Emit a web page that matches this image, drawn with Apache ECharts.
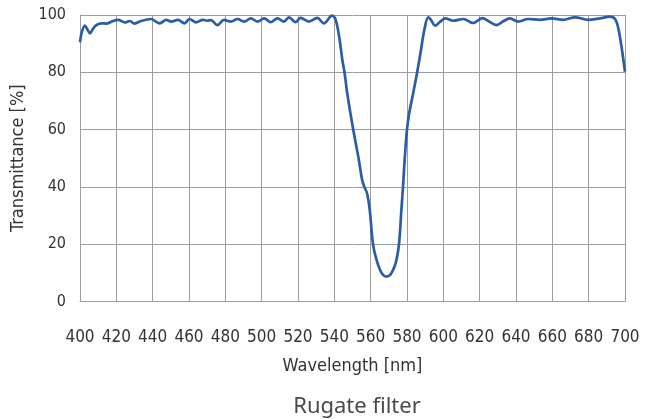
<!DOCTYPE html>
<html>
<head>
<meta charset="utf-8">
<script src="https://cdn.jsdelivr.net/npm/echarts@6/dist/echarts.min.js"></script>
<style>
html,body{margin:0;padding:0;background:#fff;}
#chart{width:656px;height:419px;}
</style>
</head>
<body>
<div id="chart"></div>
<script>
const chartTitle = "Rugate filter";
const xAxisName = "Wavelength [nm]";
const yAxisName = "Transmittance [%]";
const xTicks = [400,420,440,460,480,500,520,540,560,580,600,620,640,660,680,700];
const yTicks = [0,20,40,60,80,100];

const wavelength = [
  400,401,402.7,404,405.5,407,409,412,414.6,417.4,421,424.7,427.4,430,433.5,439,443.8,447.5,450.2,453.9,
  457.5,460.3,463.9,467.6,470,472,475.6,479.3,483,486.7,490.4,494,497.7,501.4,505,508.7,512.3,515,518.7,521.4,
  526,530.6,534.2,538.8,540.3,541.5,543,544.4,545.6,547.1,550.4,553.5,555.3,556.5,558,559.5,561.3,563.5,566,568.7,
  571,573,574.2,575.6,576.9,577.8,578.7,580,581.2,583.4,585.6,587.5,589.6,591.7,593,595.5,598,601,605.5,611,
  616.5,621.5,625,629.3,633,636.6,641.2,646.7,653.2,659.6,666,672.5,679.8,686.2,691.7,694.5,696.3,698.2,700
];
const transmittance = [
  90.5,94,96.3,95,93.6,95,96.5,97.1,97.0,97.7,98.3,97.4,97.9,97.0,97.9,98.6,97.1,98.3,97.7,98.3,
  97.1,98.6,97.4,98.3,98.0,98.2,96.5,98.3,97.7,98.6,97.7,98.8,97.7,98.8,97.5,98.8,97.7,99.2,97.5,99.0,
  97.7,99.0,97.1,99.8,99.0,96.5,91,84.3,80,72.7,60,49.4,42.4,40,37.8,31.9,20,14,10,8.7,
  9.5,12,14.5,20,31.9,40,49.4,60,65.7,72.7,80,87,95,99.2,98.5,96.3,97.5,98.8,98,98.6,
  97.2,98.9,97.8,96.5,97.8,98.8,97.7,98.6,98.3,98.8,98.3,99.2,98.3,98.8,99.4,98.6,95.4,88.4,80.2
];

const seriesData = wavelength.map((w, i) => [w, transmittance[i]]);
const condensed = '"DejaVu Sans Condensed", "Liberation Sans Narrow", "Roboto", sans-serif';
const gridColor = '#9c9c9c';

const chart = echarts.init(document.getElementById('chart'), null, {renderer: 'canvas'});
chart.setOption({
  animation: false,
  backgroundColor: '#ffffff',
  title: {
    text: chartTitle,
    left: 352,
    textAlign: 'center',
    top: 391,
    textStyle: {fontFamily: '"Noto Sans", "DejaVu Sans", sans-serif', fontSize: 22, fontWeight: 'normal', color: '#4a4a4a'}
  },
  grid: {left: 80, right: 31, top: 15, bottom: 117.5, containLabel: false},
  xAxis: {
    type: 'value',
    min: xTicks[0],
    max: xTicks[xTicks.length - 1],
    interval: 20,
    name: xAxisName,
    nameLocation: 'middle',
    nameGap: 56,
    nameTextStyle: {fontFamily: condensed, fontSize: 18, color: '#333'},
    axisLine: {show: true, lineStyle: {color: gridColor, width: 1}},
    axisTick: {show: false},
    axisLabel: {fontFamily: condensed, fontSize: 17, color: '#333', margin: 28},
    splitLine: {show: true, lineStyle: {color: gridColor, width: 1}}
  },
  yAxis: {
    type: 'value',
    min: yTicks[0],
    max: yTicks[yTicks.length - 1],
    interval: 20,
    name: yAxisName,
    nameLocation: 'middle',
    nameGap: 48,
    nameRotate: 90,
    nameTextStyle: {fontFamily: condensed, fontSize: 18, color: '#333'},
    axisLine: {show: true, lineStyle: {color: gridColor, width: 1}},
    axisTick: {show: false},
    axisLabel: {fontFamily: condensed, fontSize: 16, color: '#333', margin: 14},
    splitLine: {show: true, lineStyle: {color: gridColor, width: 1}}
  },
  series: [{
    type: 'line',
    data: seriesData,
    showSymbol: false,
    smooth: 0.35,
    lineStyle: {color: '#2b5da6', width: 2.7},
    z: 5
  }]
});
</script>
</body>
</html>
